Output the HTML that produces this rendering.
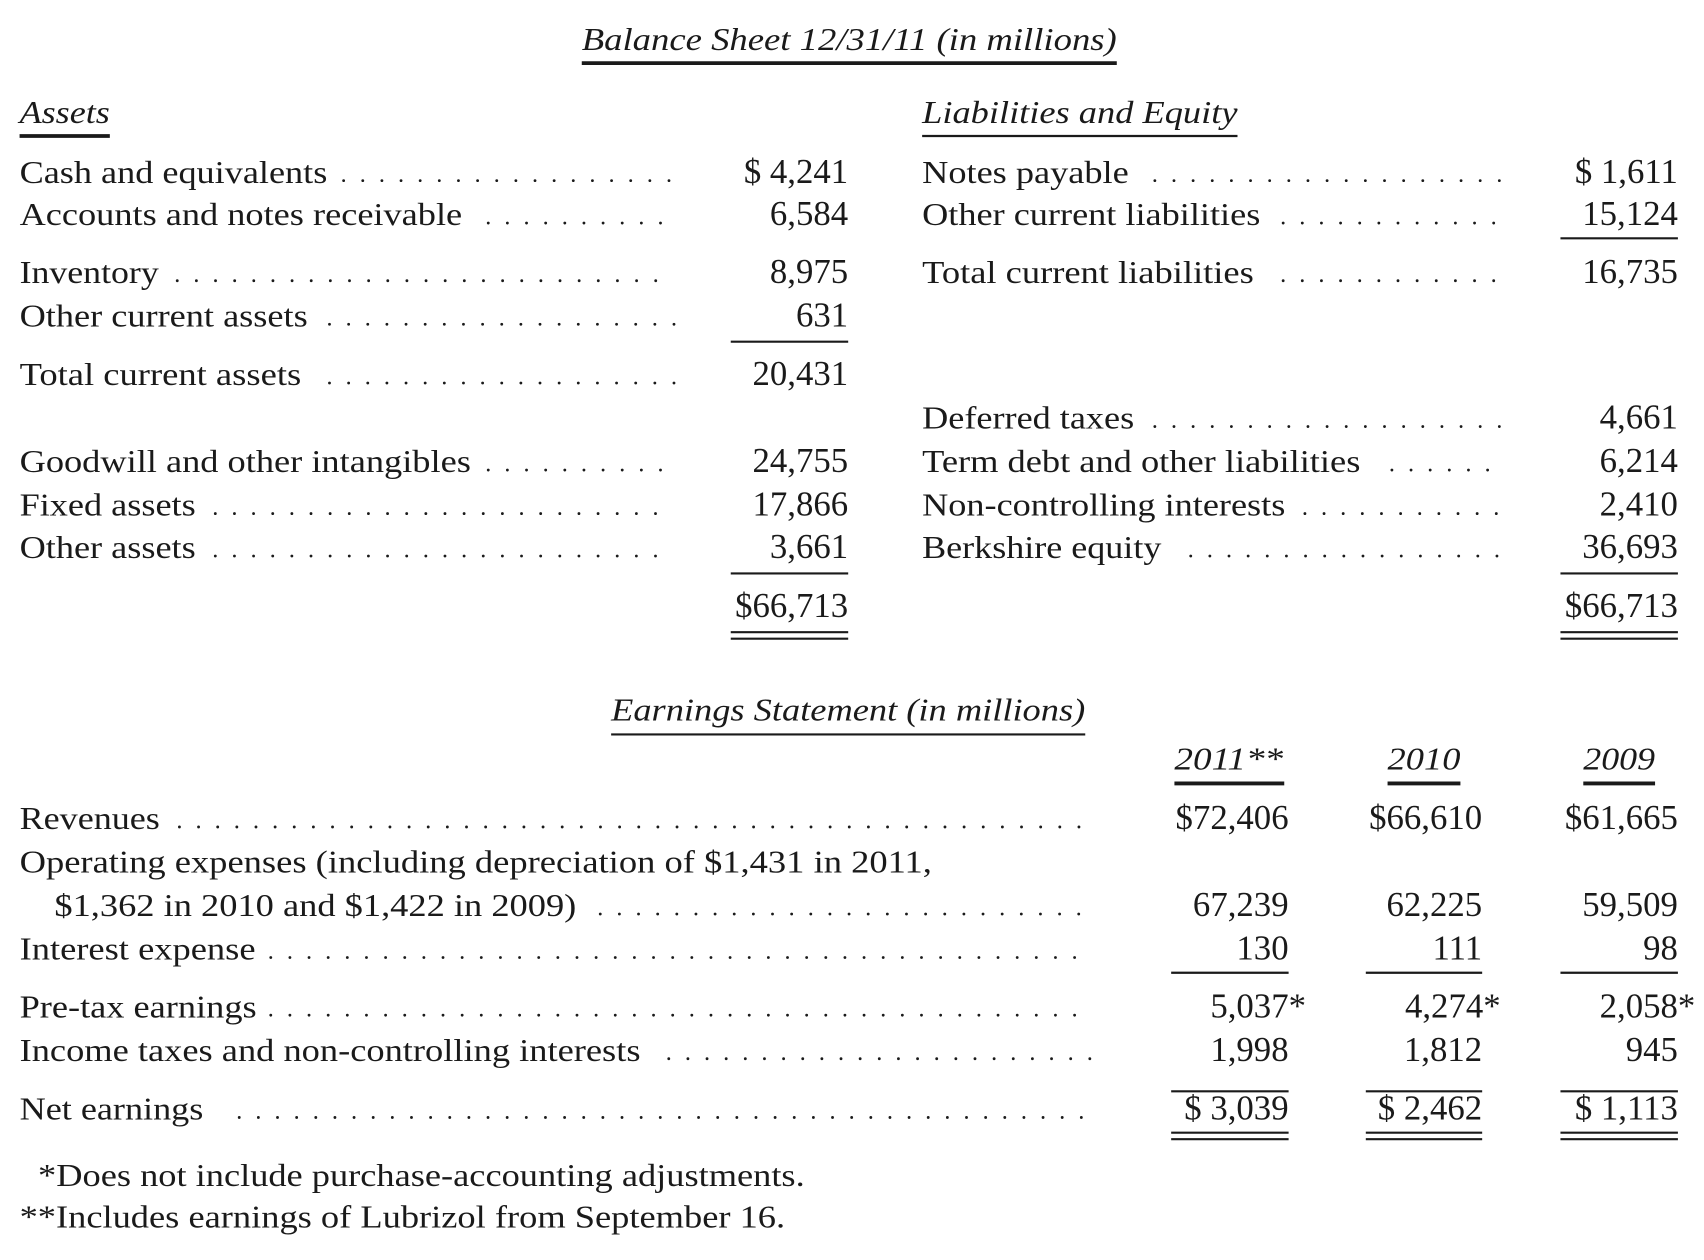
<!DOCTYPE html>
<html><head><meta charset="utf-8"><style>
html,body{margin:0;padding:0;background:#fff;}
svg{display:block;}
text{font-family:"Liberation Serif","DejaVu Serif",serif;fill:#1a1a1a;font-size:29px;}
.n text{font-size:32px;}
.it{font-style:italic;}
.d{stroke:#1a1a1a;stroke-width:2.6;stroke-dasharray:0 17.6;stroke-linecap:round;}
.u{stroke:#1a1a1a;stroke-width:2;}
.U{stroke:#1a1a1a;stroke-width:3.5;}
</style></head><body>
<svg width="1704" height="1260" viewBox="0 0 1567 1158" preserveAspectRatio="none" xmlns="http://www.w3.org/2000/svg">
<text class="it" x="535" y="46" textLength="492" lengthAdjust="spacingAndGlyphs">Balance Sheet 12/31/11 (in millions)</text>
<line class="U" x1="535" y1="58" x2="1027" y2="58"/>
<text class="it" x="18" y="113" textLength="83" lengthAdjust="spacingAndGlyphs">Assets</text>
<line class="U" x1="18" y1="125" x2="101" y2="125"/>
<text class="it" x="848" y="113" textLength="290" lengthAdjust="spacingAndGlyphs">Liabilities and Equity</text>
<line class="u" x1="848" y1="125" x2="1138" y2="125"/>

<g>
<text x="18" y="168" textLength="283" lengthAdjust="spacingAndGlyphs">Cash and equivalents</text><line class="d" x1="316" y1="166" x2="620" y2="166"/>
<text x="18" y="207" textLength="407" lengthAdjust="spacingAndGlyphs">Accounts and notes receivable</text><line class="d" x1="449" y1="205" x2="620" y2="205"/>
<text x="18" y="260" textLength="128" lengthAdjust="spacingAndGlyphs">Inventory</text><line class="d" x1="163" y1="258" x2="620" y2="258"/>
<text x="18" y="300" textLength="265" lengthAdjust="spacingAndGlyphs">Other current assets</text><line class="d" x1="303" y1="298" x2="620" y2="298"/>
<text x="18" y="354" textLength="259" lengthAdjust="spacingAndGlyphs">Total current assets</text><line class="d" x1="303" y1="352" x2="620" y2="352"/>
<text x="18" y="434" textLength="415" lengthAdjust="spacingAndGlyphs">Goodwill and other intangibles</text><line class="d" x1="449" y1="432" x2="620" y2="432"/>
<text x="18" y="474" textLength="162" lengthAdjust="spacingAndGlyphs">Fixed assets</text><line class="d" x1="198" y1="472" x2="620" y2="472"/>
<text x="18" y="513" textLength="162" lengthAdjust="spacingAndGlyphs">Other assets</text><line class="d" x1="198" y1="511" x2="620" y2="511"/>
</g>
<g class="n" text-anchor="end">
<text x="780" y="168">$ 4,241</text>
<text x="780" y="207">6,584</text>
<text x="780" y="260">8,975</text>
<text x="780" y="300">631</text>
<text x="780" y="354">20,431</text>
<text x="780" y="434">24,755</text>
<text x="780" y="474">17,866</text>
<text x="780" y="513">3,661</text>
<text x="780" y="567">$66,713</text>
</g>
<line class="u" x1="672" y1="314" x2="780" y2="314"/>
<line class="u" x1="672" y1="527" x2="780" y2="527"/>
<line class="u" x1="672" y1="581" x2="780" y2="581"/>
<line class="u" x1="672" y1="587" x2="780" y2="587"/>

<g>
<text x="848" y="168" textLength="190" lengthAdjust="spacingAndGlyphs">Notes payable</text><line class="d" x1="1062" y1="166" x2="1383" y2="166"/>
<text x="848" y="207" textLength="311" lengthAdjust="spacingAndGlyphs">Other current liabilities</text><line class="d" x1="1180" y1="205" x2="1383" y2="205"/>
<text x="848" y="260" textLength="305" lengthAdjust="spacingAndGlyphs">Total current liabilities</text><line class="d" x1="1180" y1="258" x2="1383" y2="258"/>
<text x="848" y="394" textLength="195" lengthAdjust="spacingAndGlyphs">Deferred taxes</text><line class="d" x1="1062" y1="392" x2="1383" y2="392"/>
<text x="848" y="434" textLength="403" lengthAdjust="spacingAndGlyphs">Term debt and other liabilities</text><line class="d" x1="1280" y1="432" x2="1383" y2="432"/>
<text x="848" y="474" textLength="334" lengthAdjust="spacingAndGlyphs">Non-controlling interests</text><line class="d" x1="1200" y1="472" x2="1383" y2="472"/>
<text x="848" y="513" textLength="220" lengthAdjust="spacingAndGlyphs">Berkshire equity</text><line class="d" x1="1095" y1="511" x2="1383" y2="511"/>
</g>
<g class="n" text-anchor="end">
<text x="1543" y="168">$ 1,611</text>
<text x="1543" y="207">15,124</text>
<text x="1543" y="260">16,735</text>
<text x="1543" y="394">4,661</text>
<text x="1543" y="434">6,214</text>
<text x="1543" y="474">2,410</text>
<text x="1543" y="513">36,693</text>
<text x="1543" y="567">$66,713</text>
</g>
<line class="u" x1="1435" y1="219" x2="1543" y2="219"/>
<line class="u" x1="1435" y1="527" x2="1543" y2="527"/>
<line class="u" x1="1435" y1="581" x2="1543" y2="581"/>
<line class="u" x1="1435" y1="587" x2="1543" y2="587"/>

<text class="it" x="562" y="662" textLength="436" lengthAdjust="spacingAndGlyphs">Earnings Statement (in millions)</text>
<line class="u" x1="562" y1="675" x2="998" y2="675"/>
<text class="it" x="1080" y="707" textLength="100" lengthAdjust="spacingAndGlyphs">2011**</text>
<text class="it" x="1276" y="707" textLength="67" lengthAdjust="spacingAndGlyphs">2010</text>
<text class="it" x="1456" y="707" textLength="66" lengthAdjust="spacingAndGlyphs">2009</text>
<line class="U" x1="1080" y1="720" x2="1181" y2="720"/>
<line class="U" x1="1276" y1="720" x2="1343" y2="720"/>
<line class="U" x1="1456" y1="720" x2="1522" y2="720"/>

<text x="18" y="762" textLength="129" lengthAdjust="spacingAndGlyphs">Revenues</text><line class="d" x1="165" y1="760" x2="1003" y2="760"/>
<text x="18" y="802" textLength="839" lengthAdjust="spacingAndGlyphs">Operating expenses (including depreciation of $1,431 in 2011,</text>
<text x="50" y="842" textLength="480" lengthAdjust="spacingAndGlyphs">$1,362 in 2010 and $1,422 in 2009)</text><line class="d" x1="552" y1="840" x2="1003" y2="840"/>
<text x="18" y="882" textLength="217" lengthAdjust="spacingAndGlyphs">Interest expense</text><line class="d" x1="249" y1="880" x2="1003" y2="880"/>
<text x="18" y="935" textLength="218" lengthAdjust="spacingAndGlyphs">Pre-tax earnings</text><line class="d" x1="249" y1="933" x2="1003" y2="933"/>
<text x="18" y="975" textLength="571" lengthAdjust="spacingAndGlyphs">Income taxes and non-controlling interests</text><line class="d" x1="615" y1="973" x2="1003" y2="973"/>
<text x="18" y="1029" textLength="169" lengthAdjust="spacingAndGlyphs">Net earnings</text><line class="d" x1="220" y1="1027" x2="1003" y2="1027"/>

<g class="n" text-anchor="end">
<text x="1185" y="762">$72,406</text><text x="1363" y="762">$66,610</text><text x="1543" y="762">$61,665</text>
<text x="1185" y="842">67,239</text><text x="1363" y="842">62,225</text><text x="1543" y="842">59,509</text>
<text x="1185" y="882">130</text><text x="1363" y="882">111</text><text x="1543" y="882">98</text>
<text x="1201" y="935">5,037*</text><text x="1380" y="935">4,274*</text><text x="1559" y="935">2,058*</text>
<text x="1185" y="975">1,998</text><text x="1363" y="975">1,812</text><text x="1543" y="975">945</text>
<text x="1185" y="1029">$ 3,039</text><text x="1363" y="1029">$ 2,462</text><text x="1543" y="1029">$ 1,113</text>
</g>
<line class="u" x1="1077" y1="894" x2="1185" y2="894"/><line class="u" x1="1256" y1="894" x2="1363" y2="894"/><line class="u" x1="1435" y1="894" x2="1543" y2="894"/>
<line class="u" x1="1077" y1="1003" x2="1185" y2="1003"/><line class="u" x1="1256" y1="1003" x2="1363" y2="1003"/><line class="u" x1="1435" y1="1003" x2="1543" y2="1003"/>
<line class="u" x1="1077" y1="1041" x2="1185" y2="1041"/><line class="u" x1="1256" y1="1041" x2="1363" y2="1041"/><line class="u" x1="1435" y1="1041" x2="1543" y2="1041"/>
<line class="u" x1="1077" y1="1047" x2="1185" y2="1047"/><line class="u" x1="1256" y1="1047" x2="1363" y2="1047"/><line class="u" x1="1435" y1="1047" x2="1543" y2="1047"/>

<text x="35" y="1090" textLength="705" lengthAdjust="spacingAndGlyphs">*Does not include purchase-accounting adjustments.</text>
<text x="18" y="1128" textLength="704" lengthAdjust="spacingAndGlyphs">**Includes earnings of Lubrizol from September 16.</text>
</svg>
</body></html>
